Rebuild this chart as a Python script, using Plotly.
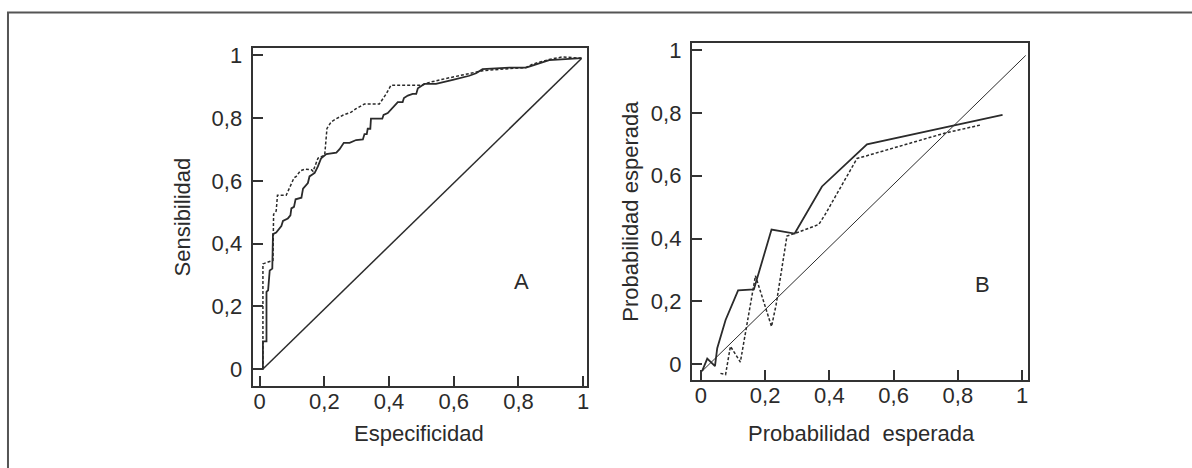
import plotly.graph_objects as go

# ---------------- Panel A: ROC curves ----------------
roc_solid_x = [-0.02, 0.010, 0.010, 0.021, 0.021, 0.026, 0.031, 0.039, 0.041, 0.051, 0.067, 0.072,
               0.087, 0.095, 0.098, 0.106, 0.111, 0.129, 0.134, 0.149, 0.154, 0.170, 0.180, 0.188,
               0.190, 0.206, 0.237, 0.247, 0.260, 0.278, 0.298, 0.319, 0.324, 0.331, 0.334, 0.342,
               0.344, 0.379, 0.383, 0.396, 0.406, 0.427, 0.442, 0.446, 0.458, 0.473, 0.484, 0.489,
               0.509, 0.545, 0.597, 0.648, 0.669, 0.689, 0.772, 0.823, 0.838, 0.895, 0.995]
roc_solid_y = [0.0, 0.0, 0.088, 0.088, 0.246, 0.251, 0.314, 0.320, 0.430, 0.435, 0.456, 0.472,
               0.480, 0.490, 0.512, 0.517, 0.541, 0.546, 0.575, 0.593, 0.614, 0.625, 0.646, 0.667,
               0.672, 0.685, 0.690, 0.701, 0.721, 0.721, 0.730, 0.732, 0.749, 0.749, 0.766, 0.766,
               0.798, 0.798, 0.810, 0.816, 0.827, 0.851, 0.851, 0.864, 0.872, 0.877, 0.877, 0.895,
               0.909, 0.909, 0.922, 0.935, 0.943, 0.956, 0.961, 0.961, 0.966, 0.985, 0.991]

roc_dot_x = [0.010, 0.010, 0.026, 0.036, 0.041, 0.043, 0.051, 0.055, 0.082, 0.106, 0.113, 0.126,
             0.139, 0.160, 0.165, 0.180, 0.201, 0.208, 0.221, 0.237, 0.257, 0.283, 0.298, 0.324,
             0.370, 0.391, 0.406, 0.500, 0.525, 0.566, 0.628, 0.689, 0.772, 0.823, 0.844, 0.895,
             0.936, 0.995]
roc_dot_y = [0.0, 0.335, 0.341, 0.346, 0.346, 0.493, 0.504, 0.554, 0.554, 0.609, 0.614, 0.632,
             0.637, 0.635, 0.630, 0.672, 0.682, 0.767, 0.788, 0.798, 0.809, 0.819, 0.830, 0.845,
             0.845, 0.877, 0.905, 0.905, 0.914, 0.924, 0.938, 0.951, 0.958, 0.961, 0.972, 0.987,
             0.995, 0.991]

diag_a_x = [0.010, 0.995]
diag_a_y = [0.0, 0.990]

# ---------------- Panel B: calibration ----------------
cal_solid_x = [0.004, 0.020, 0.044, 0.051, 0.077, 0.116, 0.165, 0.220, 0.292, 0.377, 0.517, 0.939]
cal_solid_y = [-0.022, 0.018, -0.006, 0.051, 0.141, 0.235, 0.238, 0.429, 0.416, 0.566, 0.700, 0.794]

cal_dot_x = [0.061, 0.077, 0.092, 0.123, 0.170, 0.220, 0.234, 0.268, 0.294, 0.367, 0.387, 0.486,
             0.517, 0.760, 0.872]
cal_dot_y = [-0.029, -0.033, 0.057, 0.007, 0.282, 0.120, 0.188, 0.408, 0.417, 0.445, 0.477, 0.655,
             0.664, 0.736, 0.762]

diag_b_x = [0.004, 1.011]
diag_b_y = [-0.022, 0.983]

tick_vals = [0, 0.2, 0.4, 0.6, 0.8, 1]
tick_text = ["0", "0,2", "0,4", "0,6", "0,8", "1"]

INK = "#2b2b2b"
FONT = "Liberation Sans, Arial, sans-serif"
W, H = 1192, 468


def px(x):
    return x / W


def py(y):
    return 1 - y / H


fig = go.Figure()


def line(x, y, xa, ya, width, dash="solid"):
    fig.add_trace(go.Scatter(x=x, y=y, xaxis=xa, yaxis=ya, mode="lines",
                             line=dict(color=INK, width=width, dash=dash),
                             showlegend=False, hoverinfo="skip"))


line(diag_a_x, diag_a_y, "x", "y", 1.5)
line(roc_dot_x, roc_dot_y, "x", "y", 1.5, "3px,2px")
line(roc_solid_x, roc_solid_y, "x", "y", 1.8)

line(diag_b_x, diag_b_y, "x2", "y2", 1.0)
line(cal_dot_x, cal_dot_y, "x2", "y2", 1.5, "3px,2px")
line(cal_solid_x, cal_solid_y, "x2", "y2", 1.8)

axis_common = dict(showline=True, mirror=True, linecolor="#333333", linewidth=2,
                   ticks="inside", ticklen=10, tickwidth=1.5, tickcolor="#333333",
                   tickvals=tick_vals, ticktext=tick_text, showgrid=False, zeroline=False,
                   tickfont=dict(family=FONT, size=22, color=INK), fixedrange=True)

fig.update_layout(
    width=W, height=H, margin=dict(l=0, r=0, t=0, b=0),
    paper_bgcolor="white", plot_bgcolor="white",
    xaxis=dict(domain=[px(253), px(588)], range=[-0.022, 1.012], anchor="y",
               ticklabelstandoff=-5, **axis_common),
    yaxis=dict(domain=[py(385), py(43)], range=[-0.054, 1.025], anchor="x",
               ticklabelstandoff=4, **axis_common),
    xaxis2=dict(domain=[px(693), px(1030)], range=[-0.028, 1.019], anchor="y2",
                ticklabelstandoff=-5, **axis_common),
    yaxis2=dict(domain=[py(379), py(38)], range=[-0.05, 1.024], anchor="x2",
                ticklabelstandoff=4, **axis_common),
    font=dict(family=FONT, size=22, color=INK),
    shapes=[dict(type="rect", xref="paper", yref="paper",
                 x0=px(8), y0=-0.05, x1=1.05, y1=py(7.5),
                 line=dict(color="#555555", width=2), fillcolor="rgba(0,0,0,0)")],
    annotations=[
        dict(text="Especificidad", xref="paper", yref="paper", x=px(420), y=py(433),
             showarrow=False, xanchor="center", yanchor="middle"),
        dict(text="Sensibilidad", xref="paper", yref="paper", x=px(183), y=py(214),
             showarrow=False, textangle=-90, xanchor="center", yanchor="middle"),
        dict(text="Probabilidad\u00a0 esperada", xref="paper", yref="paper", x=px(863), y=py(433),
             showarrow=False, xanchor="center", yanchor="middle"),
        dict(text="Probabilidad esperada", xref="paper", yref="paper", x=px(632), y=py(208),
             showarrow=False, textangle=-90, xanchor="center", yanchor="middle"),
        dict(text="A", xref="x", yref="y", x=0.81, y=0.28, showarrow=False),
        dict(text="B", xref="x2", yref="y2", x=0.876, y=0.255, showarrow=False),
    ],
)

fig.write_html("out.html", config={"displayModeBar": False},
               post_script="document.body.style.margin='0px';")
